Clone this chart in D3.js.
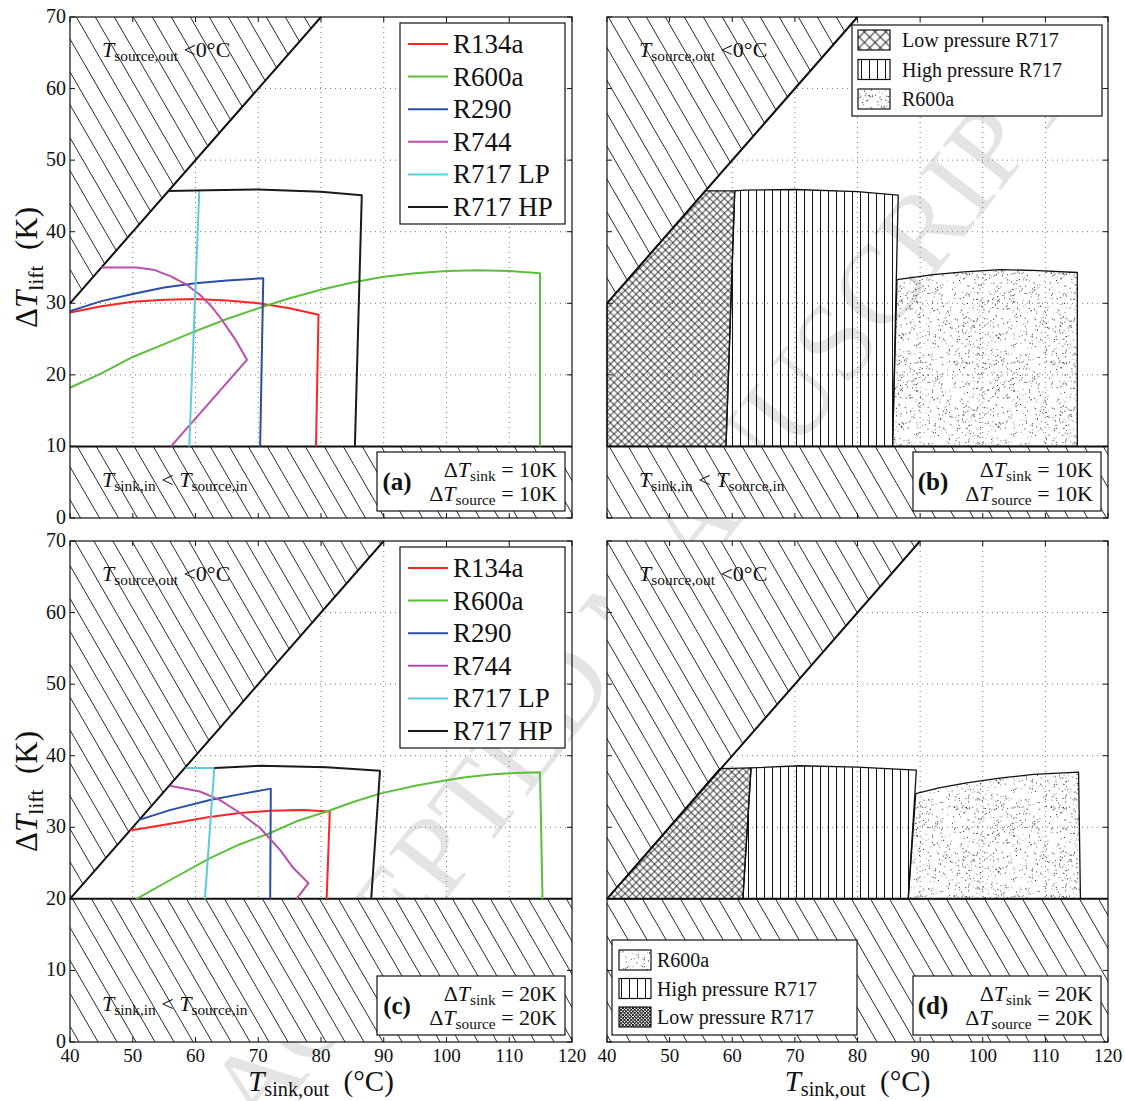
<!DOCTYPE html>
<html>
<head>
<meta charset="utf-8">
<script src="https://cdn.jsdelivr.net/npm/d3@7"></script>
<style>
body { margin: 0; background: #fff; }
svg, text { font-family: "Liberation Serif", "Times New Roman", serif; }
text { fill: #111; }
</style>
</head>
<body>
<svg id="chart" width="1125" height="1101" font-family="Liberation Serif"></svg>
<script>
// ---- data ----
const xTickValues = [40, 50, 60, 70, 80, 90, 100, 110, 120];
const yTickValues = [0, 10, 20, 30, 40, 50, 60, 70];
const fluids = ["R134a", "R600a", "R290", "R744", "R717 LP", "R717 HP"];
const fluidColors = ["#ff2424", "#5cbf3a", "#2b4fa6", "#b94fa9", "#5ecbdc", "#1a1a1a"];

// panel (a): dT_sink = dT_source = 10 K
const a_R134a = [[40, 28.7], [45, 29.6], [50, 30.2], [55, 30.5], [60, 30.6], [65, 30.4], [70, 30.0], [75, 29.3], [79.6, 28.4], [79.2, 10]];
const a_R600a = [[40, 18.2], [45, 20.2], [50, 22.5], [55, 24.3], [60, 26.1], [65, 27.8], [70, 29.3], [75, 30.7], [80, 31.9], [85, 32.9], [90, 33.7], [95, 34.2], [100, 34.5], [105, 34.6], [110, 34.5], [114.9, 34.2], [114.9, 10]];
const a_R290 = [[40, 28.9], [45, 30.3], [50, 31.3], [55, 32.2], [60, 32.8], [65, 33.2], [70.8, 33.5], [70.3, 10]];
const a_R744 = [[45, 35], [50.6, 35], [53.3, 34.7], [56, 33.8], [58.6, 32.6], [60.7, 31.2], [62.5, 29.6], [64.2, 27.7], [66.3, 25], [68.2, 22.1], [56.1, 10]];
const a_R717LP = [[60.6, 45.7], [59.0, 10]];
const a_R717HP = [[55.7, 45.7], [62, 45.8], [70, 45.9], [80, 45.6], [86.5, 45.1], [85.4, 10]];

// panel (c): dT_sink = dT_source = 20 K
const c_R134a = [[49.6, 29.6], [52, 29.9], [56, 30.5], [62, 31.4], [67, 32.0], [72, 32.3], [77, 32.4], [81.4, 32.2], [80.9, 20]];
const c_R600a = [[50.6, 20], [55.9, 22.6], [62.3, 25.7], [67, 27.6], [71.9, 29.2], [76, 30.8], [80.9, 32.2], [85, 33.5], [89.4, 34.7], [95, 35.8], [99.5, 36.5], [103, 37.0], [107.5, 37.4], [111, 37.6], [114.9, 37.7], [115.3, 20]];
const c_R290 = [[50.9, 31.0], [55.9, 32.4], [62.3, 33.8], [67, 34.6], [72.0, 35.4], [71.9, 20]];
const c_R744 = [[55.9, 35.8], [60.7, 35.0], [63.9, 33.8], [67.1, 32.0], [70.3, 29.9], [73.5, 26.8], [75.6, 24.3], [78.0, 22.2], [76.1, 20]];
const c_R717LP = [[58.4, 38.3], [63.0, 38.3], [61.5, 20]];
const c_R717HP = [[63.0, 38.3], [70.3, 38.6], [80.9, 38.4], [89.4, 37.9], [88.0, 20]];

// panel (b): best-fluid regions, 10 K
const b_lowP = [[40, 30], [55.7, 45.7], [60.4, 45.7], [59.0, 10], [40, 10]];
const b_highP = [[60.4, 45.7], [62, 45.8], [70, 45.9], [80, 45.6], [86.5, 45.1], [85.6, 10], [59.0, 10]];
const b_R600a = [[86.3, 33.3], [92.1, 34.0], [97, 34.4], [102.8, 34.7], [108, 34.6], [115.1, 34.3], [115.1, 10], [85.6, 10]];

// panel (d): best-fluid regions, 20 K
const d_lowP = [[40, 20], [58.0, 38.2], [63.0, 38.3], [61.7, 20]];
const d_highP = [[63.0, 38.3], [70.8, 38.6], [80, 38.4], [89.4, 38.0], [88.1, 20], [61.7, 20]];
const d_R600a = [[89.3, 34.7], [93, 35.5], [97.4, 36.2], [103, 36.9], [108.1, 37.4], [115.3, 37.7], [115.6, 20], [88.1, 20]];

const regionNames = ["Low pressure R717", "High pressure R717", "R600a"];

// ---- layout ----
const panels = [
  { tag: "a", dT: 10, x0: 70, x1: 572, y0: 17, y1: 518, lines: [a_R134a, a_R600a, a_R290, a_R744, a_R717LP, a_R717HP] },
  { tag: "b", dT: 10, x0: 607, x1: 1108, y0: 17, y1: 518, regions: [b_lowP, b_highP, b_R600a] },
  { tag: "c", dT: 20, x0: 70, x1: 572, y0: 541, y1: 1042, lines: [c_R134a, c_R600a, c_R290, c_R744, c_R717LP, c_R717HP] },
  { tag: "d", dT: 20, x0: 607, x1: 1108, y0: 541, y1: 1042, regions: [d_lowP, d_highP, d_R600a] }
];

const svg = d3.select("#chart");
const defs = svg.append("defs");

// hatch for infeasible zones
defs.append("pattern").attr("id", "hatch").attr("patternUnits", "userSpaceOnUse")
  .attr("width", 19).attr("height", 19).attr("patternTransform", "skewX(30)")
  .append("path").attr("d", "M9.5,-2V21").attr("stroke", "#111").attr("stroke-width", 0.9);

function crossPattern(id, size, color, width) {
  defs.append("pattern").attr("id", id).attr("patternUnits", "userSpaceOnUse")
    .attr("width", size).attr("height", size).attr("patternTransform", "rotate(45)")
    .append("path").attr("d", `M0,${size / 2}H${size}M${size / 2},0V${size}`)
    .attr("stroke", color).attr("stroke-width", width);
}
crossPattern("cross", 5.2, "#111", 0.8);
crossPattern("crossL", 7.5, "#111", 0.9);
crossPattern("crossD", 2.4, "#111", 0.9);

const vp = defs.append("pattern").attr("id", "vlines").attr("patternUnits", "userSpaceOnUse")
  .attr("width", 8).attr("height", 10);
vp.append("path").attr("d", "M4.5,0V10").attr("stroke", "#111").attr("stroke-width", 1)
  .attr("shape-rendering", "crispEdges");
const vpL = defs.append("pattern").attr("id", "vlinesL").attr("patternUnits", "userSpaceOnUse")
  .attr("width", 8).attr("height", 10).attr("x", 1);
vpL.append("path").attr("d", "M4.5,0V10").attr("stroke", "#111").attr("stroke-width", 1)
  .attr("shape-rendering", "crispEdges");

// speckle texture (deterministic)
const dp = defs.append("pattern").attr("id", "dots").attr("patternUnits", "userSpaceOnUse")
  .attr("width", 97).attr("height", 89);
let seed = 2024;
function lcg() { seed = (seed * 16807) % 2147483647; return seed / 2147483647; }
for (let i = 0; i < 520; i++) {
  const c = lcg();
  dp.append("rect").attr("x", lcg() * 97).attr("y", lcg() * 89)
    .attr("width", 1).attr("height", 1)
    .attr("fill", c > 0.6 ? "#222" : c > 0.3 ? "#666" : "#999");
}

// watermark
svg.append("text")
  .attr("transform", "translate(640,590) rotate(-52)")
  .attr("text-anchor", "middle").attr("dominant-baseline", "central")
  .style("font-size", "112px").style("fill", "#e4e4e4")
  .text("ACCEPTED MANUSCRIPT");

// rich text helper: parts = [[string, style]] style: "" | "i" | "s" | "b"
function rich(g, x, y, parts, size, anchor, shift) {
  const sh = shift || 0.2;
  const t = g.append("text").attr("x", x).attr("y", y)
    .attr("text-anchor", anchor || "start").style("font-size", size + "px");
  let sub = false;
  parts.forEach(([s, st]) => {
    const span = t.append("tspan").text(s);
    if (st === "s") {
      span.style("font-size", (size * 0.7) + "px");
      if (!sub) span.attr("dy", size * sh);
      sub = true;
    } else {
      if (sub) span.attr("dy", -size * sh);
      sub = false;
    }
    if (st === "i") span.style("font-style", "italic");
    if (st === "b") span.style("font-weight", "bold");
  });
  t.attr("xml:space", "preserve");
  return t;
}

const line = d3.line();

panels.forEach(p => {
  const x = d3.scaleLinear().domain([40, 120]).range([p.x0, p.x1]);
  const y = d3.scaleLinear().domain([0, 70]).range([p.y1, p.y0]);
  const pt = d => [x(d[0]), y(d[1])];
  const g = svg.append("g");

  // dotted grid
  g.selectAll(".gx").data(xTickValues.slice(1, -1)).join("line")
    .attr("x1", d => x(d)).attr("x2", d => x(d)).attr("y1", y(0)).attr("y2", y(70))
    .attr("stroke", "#777").attr("stroke-width", 1).attr("stroke-dasharray", "1,4");
  g.selectAll(".gy").data(yTickValues.slice(1, -1)).join("line")
    .attr("x1", x(40)).attr("x2", x(120)).attr("y1", d => y(d)).attr("y2", d => y(d))
    .attr("stroke", "#777").attr("stroke-width", 1).attr("stroke-dasharray", "1,4");

  // infeasible zones
  const upper = [[40, 70], [40, 40 - p.dT], [70 + p.dT, 70]].map(pt);
  const lower = [[40, 0], [40, p.dT], [120, p.dT], [120, 0]].map(pt);
  [upper, lower].forEach(poly => {
    g.append("path").attr("d", line(poly) + "Z").attr("fill", "#fff");
    g.append("path").attr("d", line(poly) + "Z").attr("fill", "url(#hatch)");
  });

  // regions (b, d)
  if (p.regions) {
    const fills = ["url(#cross)", "url(#vlines)", "url(#dots)"];
    p.regions.forEach((r, i) => {
      g.append("path").attr("d", line(r.map(pt)) + "Z")
        .attr("fill", fills[i]).attr("stroke", "#111").attr("stroke-width", 1.3)
        .attr("stroke-linejoin", "round");
    });
  }

  // boundaries
  g.append("path").attr("d", line([[40, 40 - p.dT], [70 + p.dT, 70]].map(pt)))
    .attr("stroke", "#111").attr("stroke-width", 2).attr("fill", "none");
  g.append("path").attr("d", line([[40, p.dT], [120, p.dT]].map(pt)))
    .attr("stroke", "#111").attr("stroke-width", 2).attr("fill", "none");

  // curves (a, c)
  if (p.lines) {
    p.lines.forEach((s, i) => {
      g.append("path").attr("d", line(s.map(pt)))
        .attr("fill", "none").attr("stroke", fluidColors[i]).attr("stroke-width", 2)
        .attr("stroke-linejoin", "round");
    });
  }

  // frame and inward ticks on all sides
  g.append("rect").attr("x", p.x0).attr("y", p.y0)
    .attr("width", p.x1 - p.x0).attr("height", p.y1 - p.y0)
    .attr("fill", "none").attr("stroke", "#111").attr("stroke-width", 1.2);
  const tk = 5;
  xTickValues.forEach(v => {
    g.append("line").attr("x1", x(v)).attr("x2", x(v)).attr("y1", p.y1).attr("y2", p.y1 - tk).attr("stroke", "#111");
    g.append("line").attr("x1", x(v)).attr("x2", x(v)).attr("y1", p.y0).attr("y2", p.y0 + tk).attr("stroke", "#111");
  });
  yTickValues.forEach(v => {
    g.append("line").attr("x1", p.x0).attr("x2", p.x0 + tk).attr("y1", y(v)).attr("y2", y(v)).attr("stroke", "#111");
    g.append("line").attr("x1", p.x1).attr("x2", p.x1 - tk).attr("y1", y(v)).attr("y2", y(v)).attr("stroke", "#111");
  });

  // tick labels
  if (p.x0 < 300) {
    g.selectAll(".yl").data(yTickValues).join("text")
      .attr("x", p.x0 - 4).attr("y", d => y(d) + 6).attr("text-anchor", "end")
      .style("font-size", "20px").text(d => d);
    rich(g, 27, (p.y0 + p.y1) / 2 + 10, [["Δ", ""], ["T", "i"], ["lift", "s"], ["  (K)", ""]], 31, "middle")
      .attr("transform", `rotate(-90,27,${(p.y0 + p.y1) / 2})`);
  }
  if (p.y0 > 300) {
    g.selectAll(".xl").data(xTickValues).join("text")
      .attr("x", d => x(d)).attr("y", p.y1 + 20).attr("text-anchor", "middle")
      .style("font-size", "19px").text(d => d);
    rich(g, (p.x0 + p.x1) / 2, 1091, [["T", "i"], ["sink,out", "s"], ["  (°C)", ""]], 29, "middle", 0.17);
  }

  // zone annotations
  rich(g, p.x0 + 32, p.y0 + 40, [["T", "i"], ["source,out", "s"], [" <0°C", ""]], 22);
  if (p.tag !== "d") {
    rich(g, p.x0 + 32, p.y1 - 31, [["T", "i"], ["sink,in", "s"], [" < ", ""], ["T", "i"], ["source,in", "s"]], 22);
  }

  // parameter box
  const bx1 = p.x1 - 7, by1 = p.y1 - 7, bw = 188, bh = 59;
  g.append("rect").attr("x", bx1 - bw).attr("y", by1 - bh).attr("width", bw).attr("height", bh)
    .attr("fill", "#fff").attr("stroke", "#111").attr("stroke-width", 1.2);
  rich(g, bx1 - bw + 20, by1 - 21, [["(" + p.tag + ")", "b"]], 25, "middle");
  rich(g, bx1 - 8, by1 - 34, [["Δ", ""], ["T", "i"], ["sink", "s"], [" = " + p.dT + "K", ""]], 22, "end");
  rich(g, bx1 - 8, by1 - 10, [["Δ", ""], ["T", "i"], ["source", "s"], [" = " + p.dT + "K", ""]], 22, "end");

  // legends
  if (p.lines) {
    const lx0 = 400, lx1 = p.x1 - 7, ly0 = p.y0 + 6, rowH = 32.6;
    g.append("rect").attr("x", lx0).attr("y", ly0).attr("width", lx1 - lx0).attr("height", 201)
      .attr("fill", "#fff").attr("stroke", "#111").attr("stroke-width", 1.2);
    fluids.forEach((f, i) => {
      const cy = ly0 + 21 + i * rowH;
      g.append("line").attr("x1", lx0 + 8).attr("x2", lx0 + 48).attr("y1", cy).attr("y2", cy)
        .attr("stroke", fluidColors[i]).attr("stroke-width", 2);
      g.append("text").attr("x", lx0 + 53).attr("y", cy + 9).style("font-size", "27px").text(f);
    });
  }
  if (p.tag === "b") {
    const lx0 = 852, ly0 = 25;
    g.append("rect").attr("x", lx0).attr("y", ly0).attr("width", p.x1 - 6 - lx0).attr("height", 91)
      .attr("fill", "#fff").attr("stroke", "#111").attr("stroke-width", 1.2);
    const sw = ["url(#crossL)", "url(#vlinesL)", "url(#dots)"];
    regionNames.forEach((n, i) => {
      const cy = ly0 + 15 + i * 29.5;
      g.append("rect").attr("x", lx0 + 6).attr("y", cy - 10).attr("width", 32).attr("height", 20)
        .attr("fill", sw[i]).attr("stroke", "#111").attr("stroke-width", 1.2);
      g.append("text").attr("x", lx0 + 50).attr("y", cy + 7).style("font-size", "20px").text(n);
    });
  }
  if (p.tag === "d") {
    const lx0 = 612, ly0 = 940;
    g.append("rect").attr("x", lx0).attr("y", ly0).attr("width", 245).attr("height", 95)
      .attr("fill", "#fff").attr("stroke", "#111").attr("stroke-width", 1.2);
    const order = [2, 1, 0];
    const sw = ["url(#crossD)", "url(#vlinesL)", "url(#dots)"];
    order.forEach((k, i) => {
      const cy = ly0 + 20 + i * 28.5;
      g.append("rect").attr("x", lx0 + 7).attr("y", cy - 10).attr("width", 32).attr("height", 20)
        .attr("fill", sw[k]).attr("stroke", "#111").attr("stroke-width", 1.2);
      g.append("text").attr("x", lx0 + 45).attr("y", cy + 7).style("font-size", "20px").text(regionNames[k]);
    });
  }
});
</script>
</body>
</html>
